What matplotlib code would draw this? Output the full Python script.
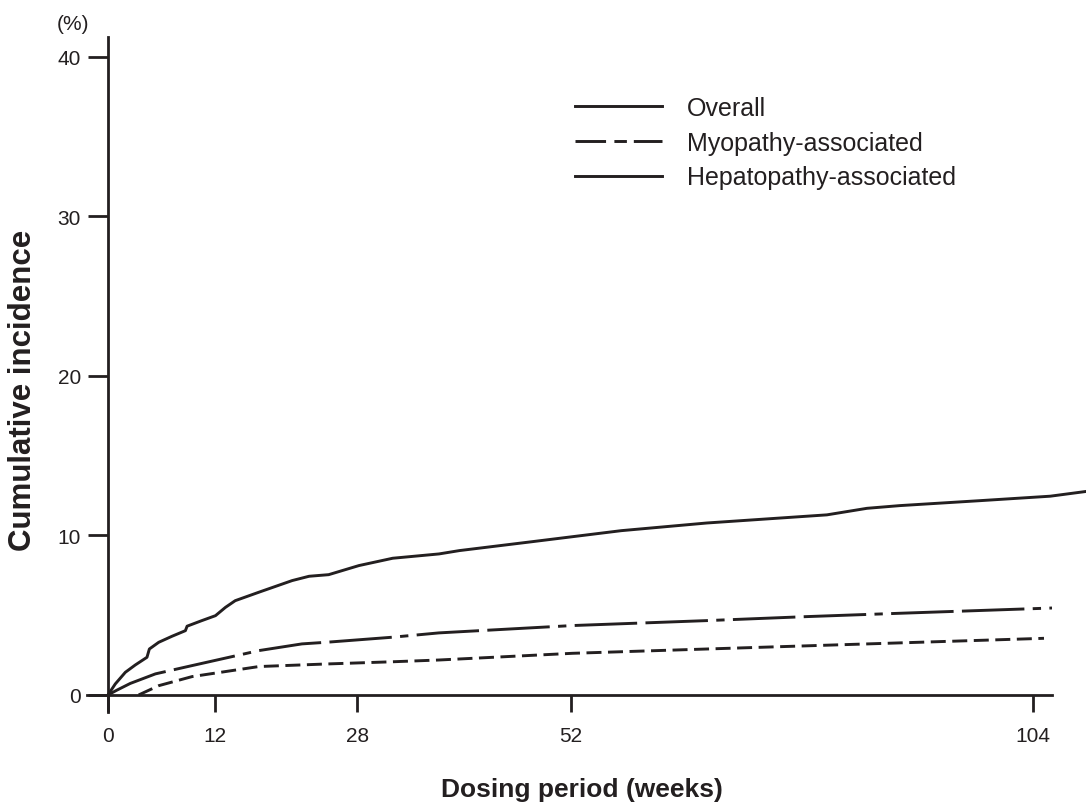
import matplotlib
matplotlib.use("Agg")
import matplotlib.pyplot as plt
from matplotlib.lines import Line2D

# cumulative incidence curves
overall_weeks = [0, 0.82, 1.95, 3.07, 4.38, 4.65, 5.70, 7.2, 8.70, 8.89, 10.5, 12.08, 13.2,
                 14.3, 16.96, 20.7, 22.6, 24.8, 28.2, 32.0, 37.2, 39.5, 47.7, 57.7, 67.3,
                 80.8, 85.3, 89.0, 98.0, 105.9, 110.1]
overall_pct = [0, 0.69, 1.42, 1.88, 2.36, 2.88, 3.30, 3.68, 4.03, 4.31, 4.65, 4.97, 5.49,
               5.91, 6.44, 7.17, 7.44, 7.54, 8.11, 8.57, 8.84, 9.05, 9.61, 10.30, 10.78,
               11.29, 11.70, 11.87, 12.18, 12.46, 12.77]

myo_weeks = [3.45, 5.7, 9.45, 16.96, 24.5, 32.0, 37.2, 52.2, 67.3, 87.1, 105.2]
myo_pct = [0, 0.58, 1.15, 1.78, 1.94, 2.08, 2.19, 2.61, 2.88, 3.23, 3.55]

hep_weeks = [0, 1.0, 2.5, 5.33, 9.45, 16.96, 21.8, 24.5, 32.0, 37.2, 52.2, 67.3, 78.5, 89.0, 106.1]
hep_pct = [0, 0.30, 0.72, 1.32, 1.84, 2.78, 3.20, 3.30, 3.62, 3.89, 4.35, 4.66, 4.91, 5.12, 5.45]

x_ticks = [0, 12, 28, 52, 104]
y_ticks = [0, 10, 20, 30, 40]
labels = ["Overall", "Myopathy-associated", "Hepatopathy-associated"]

INK = "#231f20"
plt.rcParams["font.family"] = ["Liberation Sans", "DejaVu Sans"]
plt.rcParams["lines.scale_dashes"] = False

fig = plt.figure(figsize=(10.86, 8.04), dpi=100)
ax = fig.add_axes([87 / 1086, 91 / 804, 965 / 1086, 675 / 804])

lw = 2.1
ax.plot(overall_weeks, overall_pct, color=INK, lw=lw, clip_on=False, solid_capstyle="butt")
ax.plot(myo_weeks, myo_pct, color=INK, lw=lw, dashes=(10.8, 4.7), dash_capstyle="butt")
ax.plot(hep_weeks, hep_pct, color=INK, lw=lw, dashes=(45, 6, 45, 6, 6, 6), dash_capstyle="butt")

ax.set_xlim(-2.36, 106.1)
ax.set_ylim(-1.07, 41.25)
for side in ["top", "right"]:
    ax.spines[side].set_visible(False)
ax.spines["left"].set_position(("data", 0))
ax.spines["bottom"].set_position(("data", 0))
for side in ["left", "bottom"]:
    ax.spines[side].set_linewidth(2.0)
    ax.spines[side].set_color(INK)

ax.set_xticks(x_ticks)
ax.set_yticks(y_ticks)
ax.tick_params(axis="x", direction="out", length=12.2, width=2.0, color=INK,
               labelsize=15, labelcolor=INK, pad=10)
ax.tick_params(axis="y", direction="out", length=14.4, width=2.0, color=INK,
               labelsize=15, labelcolor=INK, pad=5)

fig.text(23 / 1086, 1 - 390 / 804, "Cumulative incidence", rotation=90, ha="center",
         va="center", fontsize=22.5, fontweight="bold", color=INK)
fig.text(582 / 1086, 1 - 790 / 804, "Dosing period (weeks)", ha="center", va="center",
         fontsize=19, fontweight="bold", color=INK)
fig.text(73 / 1086, 1 - 25 / 804, "(%)", ha="center", va="center", fontsize=15, color=INK)

# legend as in the original (hepatopathy shown with a solid sample)
handles = [
    Line2D([], [], color=INK, lw=lw),
    Line2D([], [], color=INK, lw=lw, dashes=(22, 6, 9, 5)),
    Line2D([], [], color=INK, lw=lw),
]
ax.legend(handles, labels, loc="upper left", bbox_to_anchor=(575 / 1086, 1 - 97 / 804),
          bbox_transform=fig.transFigure, frameon=False, fontsize=18, borderpad=0,
          borderaxespad=0, handlelength=3.48, handletextpad=1.0, labelspacing=0.43,
          labelcolor=INK)

fig.savefig("out.png", dpi=100)
